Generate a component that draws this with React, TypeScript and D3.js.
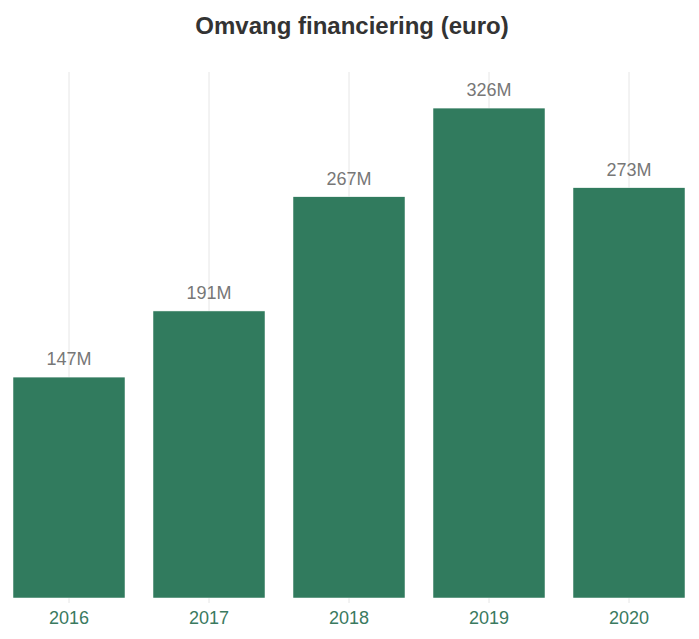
import React, { useEffect, useRef } from 'react';
import * as d3 from 'd3';

const years = ['2016', '2017', '2018', '2019', '2020'];
const amounts = [147, 191, 267, 326, 273]; // million euro

const App: React.FC = () => {
  const svgRef = useRef<SVGSVGElement>(null);

  useEffect(() => {
    if (!svgRef.current) return;
    const width = 699;
    const height = 639;
    const svg = d3.select(svgRef.current);
    svg.selectAll('*').remove();
    svg.attr('width', width).attr('height', height).attr('viewBox', `0 0 ${width} ${height}`);

    const font = "'Liberation Sans', Arial, sans-serif";
    const data = years.map((y, i) => ({ year: y, value: amounts[i] }));

    const x = d3.scaleBand().domain(years).range([-1, 699]).paddingInner(0.2).paddingOuter(0.1);
    const y = d3.scaleLinear().domain([0, 350]).range([598, 72]);

    // Title
    svg.append('text')
      .attr('x', 352)
      .attr('y', 34)
      .attr('text-anchor', 'middle')
      .attr('font-family', font)
      .attr('font-weight', 'bold')
      .attr('font-size', 24)
      .attr('fill', '#333')
      .text('Omvang financiering (euro)');

    // Vertical grid lines
    svg.append('g')
      .selectAll('line')
      .data(years)
      .enter()
      .append('line')
      .attr('x1', d => x(d)! + x.bandwidth() / 2)
      .attr('x2', d => x(d)! + x.bandwidth() / 2)
      .attr('y1', y(350))
      .attr('y2', 603)
      .attr('stroke', '#e6e6e6')
      .attr('stroke-width', 1);

    // Bars
    svg.append('g')
      .selectAll('rect')
      .data(data)
      .enter()
      .append('rect')
      .attr('x', d => x(d.year)!)
      .attr('y', d => y(d.value))
      .attr('width', x.bandwidth())
      .attr('height', d => y(0) - y(d.value))
      .attr('fill', '#317b5e')
      .attr('stroke', '#ffffff')
      .attr('stroke-width', 0.5);

    // Value labels
    svg.append('g')
      .selectAll('text')
      .data(data)
      .enter()
      .append('text')
      .attr('x', d => x(d.year)! + x.bandwidth() / 2)
      .attr('y', d => y(d.value) - 12)
      .attr('text-anchor', 'middle')
      .attr('font-family', font)
      .attr('font-size', 18)
      .attr('fill', '#777')
      .text(d => `${d.value}M`);

    // X axis labels
    svg.append('g')
      .selectAll('text')
      .data(years)
      .enter()
      .append('text')
      .attr('x', d => x(d)! + x.bandwidth() / 2)
      .attr('y', 624)
      .attr('text-anchor', 'middle')
      .attr('font-family', font)
      .attr('font-size', 18)
      .attr('fill', '#3a7a5f')
      .text(d => d);
  }, []);

  return (
    <div style={{ position: 'absolute', left: 0, top: 0, width: 699, height: 639, background: '#fff' }}>
      <svg ref={svgRef} style={{ display: 'block' }}></svg>
    </div>
  );
};

export default App;
